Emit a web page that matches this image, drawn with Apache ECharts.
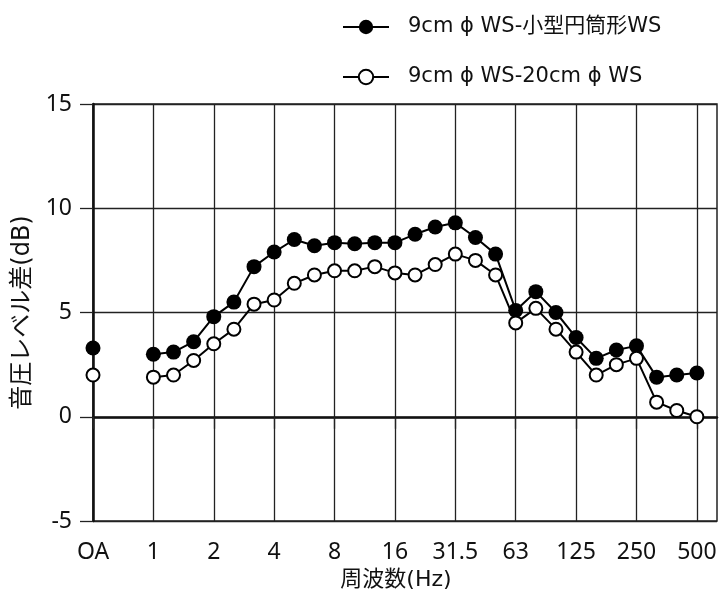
<!DOCTYPE html>
<html>
<head>
<meta charset="utf-8">
<script src="https://cdn.jsdelivr.net/npm/echarts@6/dist/echarts.min.js"></script>
<style>
  html, body { margin: 0; padding: 0; background: #fff; }
  #chart { width: 721px; height: 594px; }
</style>
</head>
<body>
<div id="chart"></div>
<script>
// 1/3-octave bands (Hz); OA sits apart from the band list with two empty slots
const bands = ['OA', '', '', '1', '1.25', '1.6', '2', '2.5', '3.15', '4', '5', '6.3', '8', '10', '12.5',
  '16', '20', '25', '31.5', '40', '50', '63', '80', '100', '125', '160', '200', '250', '315', '400', '500', ''];
const tickLabels = ['OA', '1', '2', '4', '8', '16', '31.5', '63', '125', '250', '500'];

const seriesNames = ['9cm \u03d5 WS-小型円筒形WS', '9cm \u03d5 WS-20cm \u03d5 WS'];

// level difference (dB) per band
const diffSmallCyl = [3.3, null, null, 3.0, 3.1, 3.6, 4.8, 5.5, 7.2, 7.9, 8.5, 8.2, 8.35, 8.3, 8.35,
  8.35, 8.75, 9.1, 9.3, 8.6, 7.8, 5.1, 6.0, 5.0, 3.8, 2.8, 3.2, 3.4, 1.9, 2.0, 2.1, null];
const diff20cm = [2.0, null, null, 1.9, 2.0, 2.7, 3.5, 4.2, 5.4, 5.6, 6.4, 6.8, 7.0, 7.0, 7.2,
  6.9, 6.8, 7.3, 7.8, 7.5, 6.8, 4.5, 5.2, 4.2, 3.1, 2.0, 2.5, 2.8, 0.7, 0.3, 0.0, null];

const tickFont = '"Noto Sans", "Noto Sans CJK JP", sans-serif';
const textFont = '"DejaVu Sans", "Noto Sans CJK JP", sans-serif';
const ink = '#111';
const isMajor = (i) => tickLabels.indexOf(bands[i]) !== -1;

const chart = echarts.init(document.getElementById('chart'), null, { renderer: 'canvas' });
chart.setOption({
  animation: false,
  backgroundColor: '#fff',
  textStyle: { fontFamily: textFont, color: ink },
  grid: {
    left: 93, right: 4, top: 104, bottom: 73,
    outerBoundsMode: 'none',
    containLabel: false,
    show: true, borderColor: '#222', borderWidth: 1.5, backgroundColor: 'transparent'
  },
  legend: {
    orient: 'vertical',
    left: 337, top: 10,
    itemWidth: 46, itemHeight: 18, itemGap: 26,
    textStyle: { fontFamily: textFont, fontSize: 21, color: ink, lineHeight: 24, padding: [0, 0, 0, 14] },
    data: seriesNames
  },
  xAxis: {
    type: 'category',
    data: bands,
    boundaryGap: false,
    name: '周波数(Hz)',
    nameLocation: 'middle',
    nameGap: 48,
    nameTextStyle: { fontFamily: textFont, fontSize: 22, color: ink, padding: [0, 18, 0, 0] },
    axisLine: { show: true, lineStyle: { color: '#111', width: 2.5 } },
    axisTick: { show: true, length: 12, interval: (i) => isMajor(i), lineStyle: { color: '#222', width: 1.3 } },
    axisLabel: {
      interval: (i) => isMajor(i),
      margin: 20,
      fontFamily: tickFont, fontSize: 23, color: ink
    },
    splitLine: { show: true, interval: (i) => isMajor(i), lineStyle: { color: '#222', width: 1.3 } }
  },
  yAxis: {
    type: 'value',
    min: -5, max: 15, interval: 5,
    name: '音圧レベル差(dB)',
    nameLocation: 'middle',
    nameGap: 58,
    nameTextStyle: { fontFamily: textFont, fontSize: 24, color: ink },
    axisLine: { show: true, lineStyle: { color: '#111', width: 2.5 } },
    axisTick: { show: true, length: 13, lineStyle: { color: '#222', width: 1.3 } },
    axisLabel: { margin: 21, fontFamily: tickFont, fontSize: 23, color: ink },
    splitLine: { show: true, lineStyle: { color: '#222', width: 1.3 } }
  },
  series: [
    {
      name: seriesNames[0],
      type: 'line',
      data: diffSmallCyl,
      connectNulls: false,
      symbol: 'circle',
      symbolSize: 15,
      showSymbol: true,
      showAllSymbol: true,
      lineStyle: { color: '#000', width: 2 },
      itemStyle: { color: '#000', borderColor: '#000', borderWidth: 0 },
      z: 3
    },
    {
      name: seriesNames[1],
      type: 'line',
      data: diff20cm,
      connectNulls: false,
      symbol: 'circle',
      symbolSize: 13,
      showSymbol: true,
      showAllSymbol: true,
      lineStyle: { color: '#000', width: 2 },
      itemStyle: { color: '#fff', borderColor: '#000', borderWidth: 2 },
      z: 4
    }
  ]
});
</script>
</body>
</html>
